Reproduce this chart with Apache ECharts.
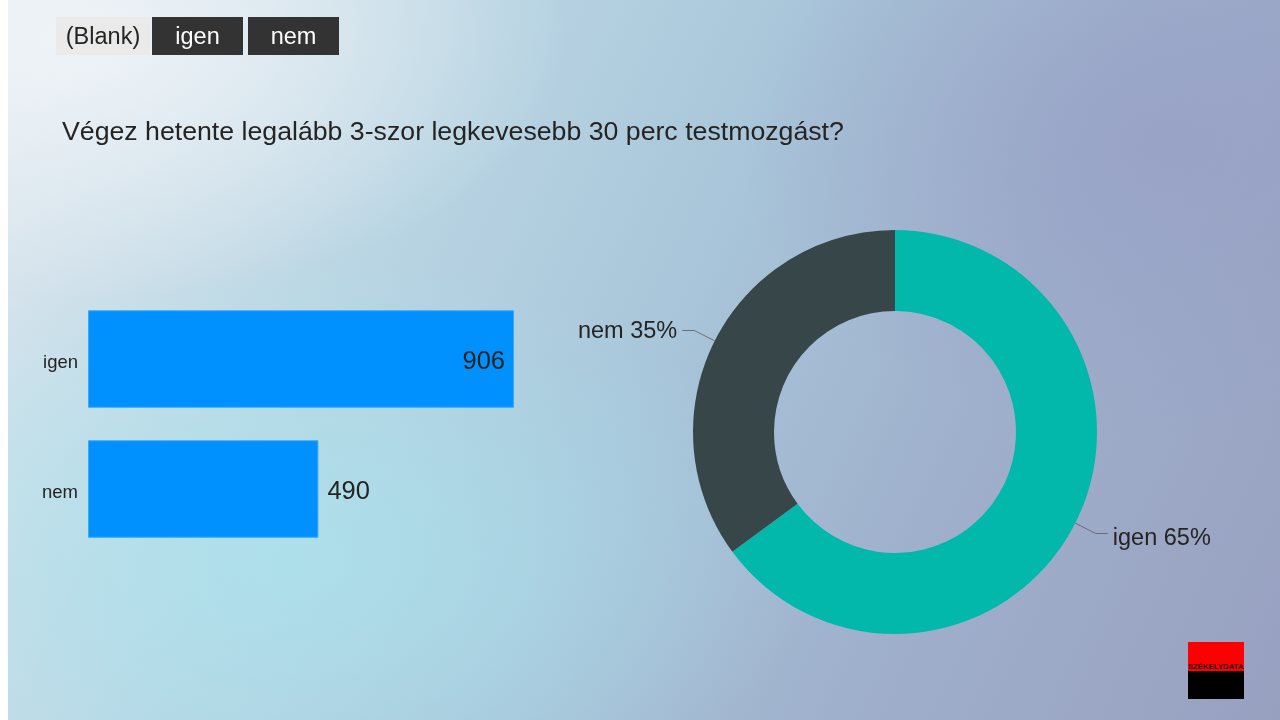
<!DOCTYPE html>
<html>
<head>
<meta charset="utf-8">
<script src="https://cdn.jsdelivr.net/npm/echarts@6/dist/echarts.min.js"></script>
<style>
html,body{margin:0;padding:0;width:1280px;height:720px;overflow:hidden;background:#fff;}
#bg{position:absolute;left:8px;top:0;width:1272px;height:720px;
background:
 radial-gradient(ellipse 520px 300px at 280px 560px, rgba(170,228,238,0.75), rgba(170,228,238,0) 100%),
 radial-gradient(ellipse 500px 260px at 60px 40px, rgba(240,244,248,0.95), rgba(240,244,248,0) 100%),
 radial-gradient(ellipse 420px 300px at 1150px 140px, rgba(150,158,196,0.7), rgba(150,158,196,0) 100%),
 linear-gradient(115deg, #dfe8ef 0%, #b9d5e3 30%, #a9c6da 50%, #9fb0cc 72%, #98a0c0 100%);}
#chart{position:absolute;left:0;top:0;width:1280px;height:720px;}
</style>
</head>
<body>
<div id="bg"></div>
<div id="chart"></div>
<script>
const categories = ['igen', 'nem'];
const counts = [906, 490];
const slicerLabels = ['(Blank)', 'igen', 'nem'];
const titleText = 'Végez hetente legalább 3-szor legkevesebb 30 perc testmozgást?';
const logoText = 'SZÉKELYDATA';

const FONT = '"Liberation Sans", Arial, sans-serif';
const chart = echarts.init(document.getElementById('chart'), null, {renderer: 'canvas'});

const slicerBoxes = [
  {x: 56, w: 94, fill: '#eaeaea', color: '#252423'},
  {x: 152, w: 91, fill: '#333333', color: '#ffffff'},
  {x: 248, w: 91, fill: '#333333', color: '#ffffff'}
];
const graphics = [];
slicerLabels.forEach((t, i) => {
  const b = slicerBoxes[i];
  graphics.push({type: 'rect', left: b.x, top: 17, shape: {width: b.w, height: 38}, style: {fill: b.fill}, z: 10});
  graphics.push({type: 'text', x: b.x + b.w / 2, y: 38, style: {text: t, fill: b.color, font: '23.5px ' + FONT, textAlign: 'center', textVerticalAlign: 'middle'}, z: 11});
});
// logo
graphics.push({type: 'rect', left: 1188, top: 642, shape: {width: 56, height: 30}, style: {fill: '#ff0000'}, z: 10});
graphics.push({type: 'rect', left: 1188, top: 671, shape: {width: 56, height: 28}, style: {fill: '#000000'}, z: 10});
graphics.push({type: 'text', x: 1216, y: 667, style: {text: logoText, fill: '#1a0000', font: 'bold 7.8px ' + FONT, textAlign: 'center', textVerticalAlign: 'middle'}, z: 11});

const pieLabelStyle = {fontFamily: FONT, fontSize: 23.5, color: '#252423'};

const option = {
  animation: false,
  title: {
    text: titleText, left: 62, top: 119, padding: 0,
    textStyle: {fontFamily: FONT, fontSize: 26.7, fontWeight: 'normal', color: '#252423'}
  },
  grid: {left: 88, top: 294, width: 426, height: 260},
  xAxis: {type: 'value', min: 0, max: 906, show: false},
  yAxis: {
    type: 'category', data: categories, inverse: true,
    axisLine: {show: false}, axisTick: {show: false},
    axisLabel: {
      margin: 10,
      formatter: v => '{l|' + v + '}',
      rich: {l: {fontFamily: FONT, fontSize: 18.5, color: '#252423', padding: [8, 0, 0, 0]}}
    }
  },
  graphic: graphics,
  series: [
    {
      type: 'bar',
      barCategoryGap: '25%',
      itemStyle: {color: '#0091ff', borderColor: '#3aa8ff', borderWidth: 1},
      data: counts.map((v, i) => ({
        value: v,
        label: {
          show: true,
          position: i === 0 ? 'insideRight' : 'right',
          distance: 9,
          offset: [0, 3],
          fontFamily: FONT, fontSize: 25.5, color: '#252423'
        }
      }))
    },
    {
      type: 'pie',
      center: [895, 432],
      radius: [121, 202],
      startAngle: 90,
      clockwise: true,
      avoidLabelOverlap: false,
      data: categories.map((c, i) => ({
        name: c, value: counts[i],
        itemStyle: {color: i === 0 ? '#01b8aa' : '#374649'}
      })),
      label: {
        show: true,
        formatter: p => '{' + (p.dataIndex === 0 ? 'lo' : 'hi') + '|' + p.name + ' ' + Math.round(p.percent) + '%}',
        distanceToLabelLine: 5,
        rich: {
          lo: Object.assign({padding: [9, 0, 0, 0]}, pieLabelStyle),
          hi: Object.assign({padding: [3, 0, 0, 0]}, pieLabelStyle)
        }
      },
      labelLine: {show: true, length: 23, length2: 12, lineStyle: {color: '#6e6e6e', width: 1}}
    }
  ]
};
chart.setOption(option);
</script>
</body>
</html>
